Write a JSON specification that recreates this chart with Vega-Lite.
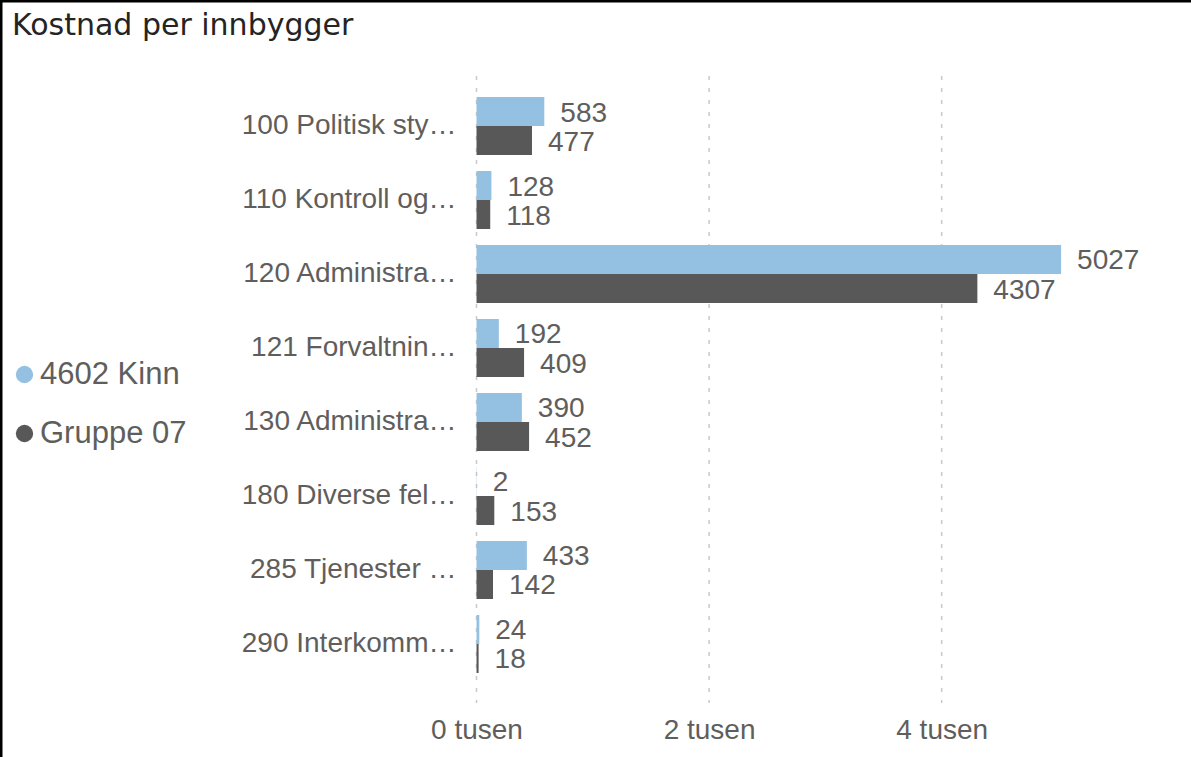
{
  "$schema": "https://vega.github.io/schema/vega-lite/v6.json",
  "width": 1195,
  "height": 760,
  "autosize": "none",
  "padding": {"left": 1, "top": 1, "right": 0, "bottom": 0},
  "background": "white",
  "title": {
    "text": "Kostnad per innbygger",
    "anchor": "start",
    "frame": "group",
    "orient": "top",
    "baseline": "alphabetic",
    "offset": -35,
    "dy": 29,
    "dx": 11,
    "font": "DejaVu Sans",
    "fontSize": 30,
    "fontWeight": "normal",
    "color": "#252423"
  },
  "config": {
    "view": {"stroke": "black", "strokeWidth": 3},
    "font": "Liberation Sans"
  },
  "data": {
    "values": [
      {"category": "100 Politisk sty…", "series": "4602 Kinn", "value": 583},
      {"category": "100 Politisk sty…", "series": "Gruppe 07", "value": 477},
      {"category": "110 Kontroll og…", "series": "4602 Kinn", "value": 128},
      {"category": "110 Kontroll og…", "series": "Gruppe 07", "value": 118},
      {"category": "120 Administra…", "series": "4602 Kinn", "value": 5027},
      {"category": "120 Administra…", "series": "Gruppe 07", "value": 4307},
      {"category": "121 Forvaltnin…", "series": "4602 Kinn", "value": 192},
      {"category": "121 Forvaltnin…", "series": "Gruppe 07", "value": 409},
      {"category": "130 Administra…", "series": "4602 Kinn", "value": 390},
      {"category": "130 Administra…", "series": "Gruppe 07", "value": 452},
      {"category": "180 Diverse fel…", "series": "4602 Kinn", "value": 2},
      {"category": "180 Diverse fel…", "series": "Gruppe 07", "value": 153},
      {"category": "285 Tjenester …", "series": "4602 Kinn", "value": 433},
      {"category": "285 Tjenester …", "series": "Gruppe 07", "value": 142},
      {"category": "290 Interkomm…", "series": "4602 Kinn", "value": 24},
      {"category": "290 Interkomm…", "series": "Gruppe 07", "value": 18}
    ]
  },
  "layer": [
    {
      "data": {"values": [{"tick": 0}, {"tick": 2000}, {"tick": 4000}]},
      "mark": {"type": "rule", "color": "#C8C8C8", "strokeWidth": 1.5, "strokeDash": [4, 8], "yOffset": -21, "y2Offset": 59},
      "encoding": {
        "x": {"field": "tick", "type": "quantitative"},
        "y": {"datum": "100 Politisk sty…", "type": "nominal", "bandPosition": 0},
        "y2": {"datum": "290 Interkomm…"}
      }
    },
    {
      "mark": {"type": "bar"},
      "encoding": {
        "x": {
          "field": "value",
          "type": "quantitative",
          "scale": {"domain": [-4089, 6187], "nice": false, "zero": false},
          "axis": {
            "values": [0, 2000, 4000],
            "labelExpr": "datum.value / 1000 + ' tusen'",
            "grid": false,
            "domain": false,
            "ticks": false,
            "title": null,
            "offset": -45,
            "labelPadding": 0,
            "labelFontSize": 28,
            "labelColor": "#605E5C",
            "labelFont": "Liberation Sans"
          }
        },
        "y": {
          "field": "category",
          "type": "nominal",
          "sort": null,
          "scale": {
            "domain": ["100 Politisk sty…", "110 Kontroll og…", "120 Administra…", "121 Forvaltnin…", "130 Administra…", "180 Diverse fel…", "285 Tjenester …", "290 Interkomm…"],
            "range": [96, 672],
            "paddingInner": 0.216,
            "paddingOuter": 0
          },
          "axis": {
            "title": null,
            "domain": false,
            "ticks": false,
            "grid": false,
            "offset": -465,
            "labelPadding": 10,
            "labelFontSize": 28,
            "labelColor": "#605E5C",
            "labelFont": "Liberation Sans",
            "labelLimit": 400
          }
        },
        "yOffset": {
          "field": "series",
          "type": "nominal",
          "sort": ["4602 Kinn", "Gruppe 07"],
          "scale": {"paddingInner": 0, "paddingOuter": 0}
        },
        "color": {
          "field": "series",
          "type": "nominal",
          "sort": ["4602 Kinn", "Gruppe 07"],
          "scale": {"domain": ["4602 Kinn", "Gruppe 07"], "range": ["#94C1E1", "#585858"]},
          "legend": {
            "title": null,
            "orient": "none",
            "legendX": 8,
            "legendY": 358,
            "symbolType": "circle",
            "symbolSize": 300,
            "symbolStrokeWidth": 0,
            "labelFontSize": 31,
            "labelColor": "#605E5C",
            "labelFont": "Liberation Sans",
            "labelOffset": 0,
            "rowPadding": 27
          }
        }
      }
    },
    {
      "mark": {"type": "text", "align": "left", "baseline": "middle", "dx": 16, "dy": 2, "fontSize": 28, "color": "#605E5C", "font": "Liberation Sans"},
      "encoding": {
        "x": {"field": "value", "type": "quantitative"},
        "y": {"field": "category", "type": "nominal", "sort": null},
        "yOffset": {"field": "series", "type": "nominal", "sort": ["4602 Kinn", "Gruppe 07"]},
        "text": {"field": "value", "type": "quantitative", "format": "d"}
      }
    }
  ]
}
